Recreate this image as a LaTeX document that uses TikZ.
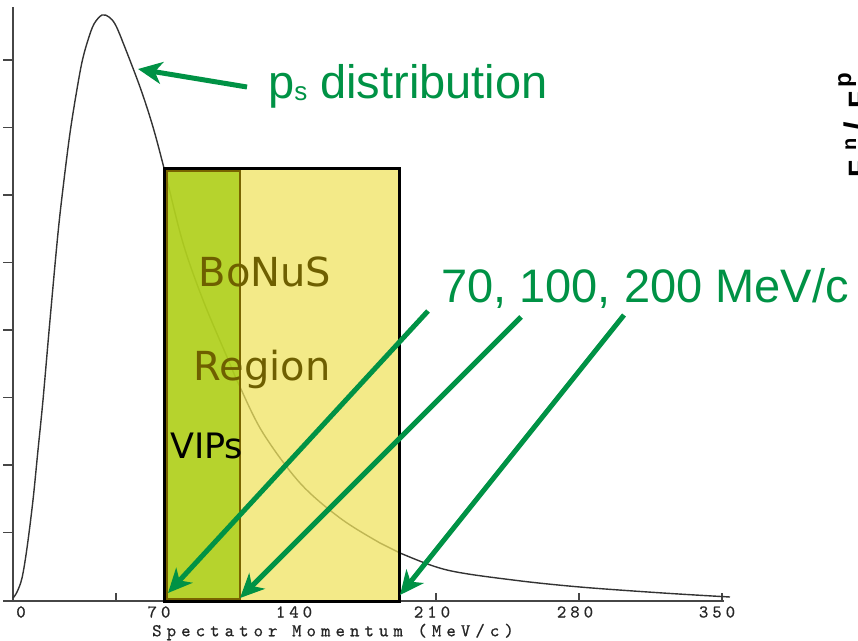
\documentclass[tikz,border=0pt]{standalone}
\usepackage{fontspec}
\setmainfont{Liberation Sans}
\newfontfamily\bonusfont{DejaVu Sans}
\newfontfamily\axisfont{lmmono10-regular}[Extension=.otf,LetterSpace=22,FakeBold=0.6]
\newfontfamily\axislabfont{lmmono10-regular}[Extension=.otf,LetterSpace=28,FakeBold=0.6]
\usetikzlibrary{arrows.meta,calc}
\definecolor{grn}{RGB}{0,146,69}
\definecolor{olivetext}{RGB}{110,95,0}
\definecolor{oliveline}{RGB}{120,100,0}
\definecolor{yellowfill}{RGB}{239,227,96}
\definecolor{greenfill}{RGB}{162,204,15}
\definecolor{axisgray}{RGB}{70,70,70}
\tikzset{
  gtext/.style={text=grn, font=\fontsize{47}{50}\selectfont, inner sep=0pt},
  garrow/.style={draw=grn, line width=5pt, -{Stealth[length=24pt,width=22pt,inset=7pt]}},
  axisline/.style={draw=axisgray, line width=1.5pt},
  curveline/.style={draw=black!80, line width=1.4pt},
  ticklab/.style={font=\axisfont\fontsize{18}{18}\selectfont, text=black!85, inner sep=0pt},
  boxtext/.style={font=\bonusfont\fontsize{40}{42}\selectfont, text=olivetext, inner sep=0pt},
}
\begin{document}
\begin{tikzpicture}[x=1pt,y=-1pt]
\useasboundingbox (0,0) rectangle (858,640);
\clip (0,0) rectangle (858,640);
% axes
\draw[axisline] (13,7) -- (13,601);
\draw[axisline] (3,601) -- (724,601);
\foreach \yy in {60,127.5,195,262.5,330,397.5,465,532.5}
  \draw[axisline] (3,\yy) -- (13,\yy);
\foreach \xx in {116,436,579,722}
  \draw[axisline] (\xx,601) -- (\xx,593);
% curve
\draw[curveline] plot[smooth, tension=0.55] coordinates {
 (13,598) (17,592) (22,578) (27,548) (33,500) (38,450) (43,400) (50,320)
 (58,233) (64,180) (70,133) (76,95) (82,62) (88,40) (94,24) (102,15)
 (109,17) (115,24) (122,40) (140,87) (153,127) (165,172)
 (183,243) (203,300) (227,357) (240,387) (263,433) (300,483) (340,518)
 (380,543) (400,553) (447,570) (513,580) (580,587) (663,593) (730,597)};
% tick labels
\node[ticklab] (l0) at (21,612) {0};
\node[ticklab] (l70) at (159,612) {70};
\node[ticklab] (l140) at (294,612) {140};
\node[ticklab] (l210) at (432,612) {210};
\node[ticklab] (l280) at (575,612) {280};
\node[ticklab] (l350) at (717,612) {350};
\node[ticklab, font=\axislabfont\fontsize{18}{18}\selectfont] (xlab) at (333,632) {Spectator Momentum (MeV/c)};
% box
\fill[yellowfill, opacity=0.75] (164,168) rectangle (399,601);
\fill[greenfill, opacity=0.75] (164,168) rectangle (240,601);
\draw[oliveline, line width=2pt] (167,171) rectangle (240,599);
\draw[black, line width=3pt] (164,168) rectangle (399,601);
\node[boxtext] (bonus) at (265,272) {BoNuS};
\node[boxtext, anchor=base] (region) at (262,380) {Region};
\node[font=\bonusfont\fontsize{35}{36}\selectfont, text=black, inner sep=0pt, anchor=base west] (vips) at (170,458) {VIPs};
% green labels
\node[gtext, anchor=base west] (ps) at (268,98) {p\raisebox{-2pt}{\fontsize{26}{26}\selectfont s} distribution};
\node[gtext, anchor=base west] (mev) at (441,302) {70, 100, 200 MeV/c};
% right-edge rotated label (clipped by the picture edge, as in the reference)
\node[rotate=90, anchor=base west, inner sep=0pt, font=\fontsize{28}{28}\selectfont\bfseries] (ratio) at (868,178)
  {F\hspace{10pt}\raisebox{12pt}{\fontsize{20}{20}\selectfont n}\hspace{7pt}\fontsize{34}{34}\selectfont/\hspace{14pt}\fontsize{28}{28}\selectfont F\hspace{3pt}\raisebox{17pt}{\fontsize{24}{24}\selectfont p}};
% arrows
\coordinate (psTip) at (138,69);
\coordinate (tip70) at (168,593);
\coordinate (tip100) at (240,598);
\coordinate (tip200) at (400,595);
\draw[garrow] ($(ps.base west)+(-21,-11)$) -- (psTip);
\draw[garrow] ($(mev.base west)+(-13,9)$) -- (tip70);
\draw[garrow] ($(mev.base west)+(80,15)$) -- (tip100);
\draw[garrow] ($(mev.base west)+(183,13)$) -- (tip200);
\end{tikzpicture}
\end{document}
